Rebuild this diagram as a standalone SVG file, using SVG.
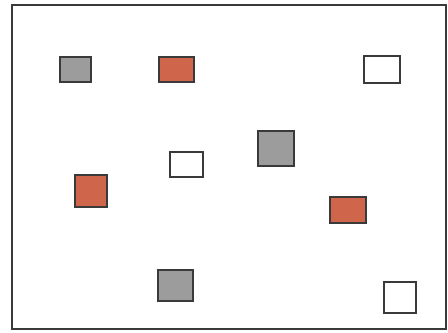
<svg xmlns="http://www.w3.org/2000/svg" width="448" height="333" viewBox="0 0 448 333">
<style>
.b{fill:none;stroke:#3a3a3a;stroke-width:2}
.s{stroke:#3a3a3a;stroke-width:2}
.g{fill:#9c9c9c}
.o{fill:#cf654b}
.w{fill:#ffffff}
</style>
<rect width="448" height="333" fill="#ffffff"/>
<rect class="b" x="12" y="5" width="434" height="324"/>
<g id="n1"><rect class="s g" x="60" y="57" width="31" height="25"/></g>
<g id="n2"><rect class="s o" x="159" y="57" width="35" height="25"/></g>
<g id="n3"><rect class="s w" x="364" y="56" width="36" height="27"/></g>
<g id="n4"><rect class="s g" x="258" y="131" width="36" height="35"/></g>
<g id="n5"><rect class="s w" x="170" y="152" width="33" height="25"/></g>
<g id="n6"><rect class="s o" x="75" y="175" width="32" height="32"/></g>
<g id="n7"><rect class="s g" x="158" y="270" width="35" height="31"/></g>
<g id="n8"><rect class="s o" x="330" y="197" width="36" height="26"/></g>
<g id="n9"><rect class="s w" x="384" y="282" width="32" height="31"/></g>
<g id="connectors"></g>
</svg>
